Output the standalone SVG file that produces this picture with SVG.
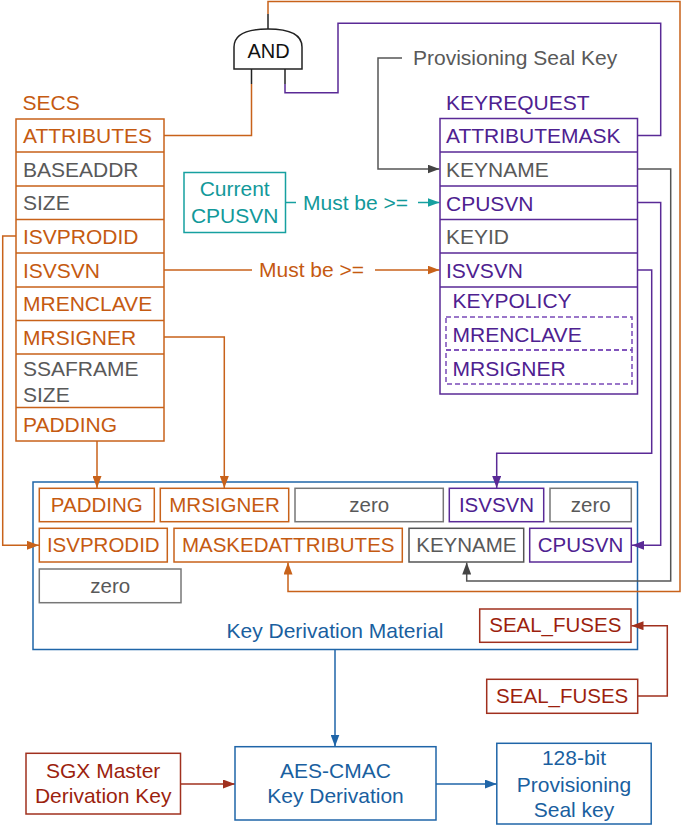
<svg xmlns="http://www.w3.org/2000/svg" width="682" height="826" viewBox="0 0 682 826">
<style>
text{font-family:"Liberation Sans",Arial,"DejaVu Sans",sans-serif;font-size:21px}
.c{text-anchor:middle}
.m{font-size:20.5px}
.or{fill:#c55a11}.pu{fill:#4e2190}.gy{fill:#595959}.tl{fill:#12999a}.bl{fill:#1a5f9f}.rd{fill:#9c1f0e}.bk{fill:#111}
.bor{fill:#fff;stroke:#c8621a;stroke-width:1.5}
.bpu{fill:#fff;stroke:#5a2a96;stroke-width:1.5}
.bgy{fill:#fff;stroke:#777;stroke-width:1.5}
.bkn{fill:#fff;stroke:#555;stroke-width:1.5}
.bbl{fill:#fff;stroke:#1f65a8;stroke-width:1.5}
.brd{fill:#fff;stroke:#a0301e;stroke-width:1.5}
.btl{fill:#fff;stroke:#16a0a0;stroke-width:1.5}
.l{fill:none;stroke-width:1.5}
.lor{stroke:#c8621a}.lpu{stroke:#5a2a96}.lgy{stroke:#555}.lbl{stroke:#1f65a8}.lrd{stroke:#a0301e}.ltl{stroke:#16a0a0}.lbk{stroke:#222}
.dash{fill:none;stroke:#7a4ab8;stroke-width:1.5;stroke-dasharray:5,3}
</style>
<defs>
<marker id="aor" viewBox="0 0 12 9" refX="12" refY="4.5" markerWidth="12" markerHeight="9" markerUnits="userSpaceOnUse" orient="auto"><path d="M0,0L12,4.5L0,9z" fill="#c8621a"/></marker>
<marker id="apu" viewBox="0 0 12 9" refX="12" refY="4.5" markerWidth="12" markerHeight="9" markerUnits="userSpaceOnUse" orient="auto"><path d="M0,0L12,4.5L0,9z" fill="#5a2a96"/></marker>
<marker id="agy" viewBox="0 0 12 9" refX="12" refY="4.5" markerWidth="12" markerHeight="9" markerUnits="userSpaceOnUse" orient="auto"><path d="M0,0L12,4.5L0,9z" fill="#444"/></marker>
<marker id="atl" viewBox="0 0 12 9" refX="12" refY="4.5" markerWidth="12" markerHeight="9" markerUnits="userSpaceOnUse" orient="auto"><path d="M0,0L12,4.5L0,9z" fill="#16a0a0"/></marker>
<marker id="abl" viewBox="0 0 12 9" refX="12" refY="4.5" markerWidth="12" markerHeight="9" markerUnits="userSpaceOnUse" orient="auto"><path d="M0,0L12,4.5L0,9z" fill="#1f65a8"/></marker>
<marker id="ard" viewBox="0 0 12 9" refX="12" refY="4.5" markerWidth="12" markerHeight="9" markerUnits="userSpaceOnUse" orient="auto"><path d="M0,0L12,4.5L0,9z" fill="#a0301e"/></marker>
</defs>

<g id="kdm">
<rect class="bbl" x="33" y="482" width="604.5" height="167.5"/>
<text class="bl c" x="335" y="638">Key Derivation Material</text>
</g>

<g id="connectors">
<path class="l lor" d="M164,135.5H251.5V84"/>
<path class="l lbk" d="M251.5,84V69"/>
<path class="l lbk" d="M285,69V84"/>
<path class="l lpu" d="M285,84V92.7H338V23.3H660.7V135.5H637.5"/>
<path class="l lbk" d="M268,29V14"/>
<path class="l lor" d="M268,14V1.5H680V591.5H288V562.5" marker-end="url(#aor)"/>
<path class="l lgy" d="M402,58H378V169H439.5" marker-end="url(#agy)"/>
<path class="l lgy" d="M637.5,169H670.7V581H466.7V562.5" marker-end="url(#agy)"/>
<path class="l lpu" d="M637.5,202.5H660.7V545.3H632" marker-end="url(#apu)"/>
<path class="l lpu" d="M637.5,270H651.7V453.3H496.7V488" marker-end="url(#apu)"/>
<path class="l lor" d="M164,337H224.3V488" marker-end="url(#aor)"/>
<path class="l lor" d="M97,441V488" marker-end="url(#aor)"/>
<path class="l lor" d="M16,236H2.7V545.3H39" marker-end="url(#aor)"/>
<path class="l lor" d="M164,270H252"/>
<path class="l lor" d="M375,270H439.5" marker-end="url(#aor)"/>
<text class="or" x="259" y="277">Must be &gt;=</text>
<path class="l ltl" d="M285.5,202.5H296"/>
<path class="l ltl" d="M418,202.5H439.5" marker-end="url(#atl)"/>
<text class="tl" x="303" y="209.5">Must be &gt;=</text>
<path class="l lrd" d="M637.7,696H667.3V625.7H631.5" marker-end="url(#ard)"/>
<path class="l lbl" d="M335,649.5V746.5" marker-end="url(#abl)"/>
<path class="l lrd" d="M180.5,784H235" marker-end="url(#ard)"/>
<path class="l lbl" d="M436,784H496.8" marker-end="url(#abl)"/>
</g>

<g id="and-gate">
<path d="M234,69V47Q234,29 268,29Q302,29 302,47V69Z" fill="#fff" stroke="#222" stroke-width="1.5"/>
<text class="bk c" x="268.5" y="57.5" style="font-size:20px">AND</text>
</g>

<g id="secs">
<text class="or" x="22.5" y="110">SECS</text>
<rect class="bor" x="16" y="119" width="148" height="322"/>
<path class="l lor" d="M16,152H164M16,186H164M16,219.5H164M16,253H164M16,287H164M16,320.5H164M16,354H164M16,407.5H164"/>
<text class="or" x="23" y="143.3">ATTRIBUTES</text>
<text class="gy" x="23" y="176.7">BASEADDR</text>
<text class="gy" x="23" y="210.3">SIZE</text>
<text class="or" x="23" y="243.7">ISVPRODID</text>
<text class="or" x="23" y="277.5">ISVSVN</text>
<text class="or" x="23" y="311">MRENCLAVE</text>
<text class="or" x="23" y="344.5">MRSIGNER</text>
<text class="gy" x="23" y="375.5">SSAFRAME</text>
<text class="gy" x="23" y="401.5">SIZE</text>
<text class="or" x="23" y="431.5">PADDING</text>
</g>

<g id="prov-label">
<text class="gy" x="413" y="65">Provisioning Seal Key</text>
</g>

<g id="keyrequest">
<text class="pu" x="446" y="110">KEYREQUEST</text>
<rect class="bpu" x="440" y="118.5" width="197.5" height="275.5"/>
<path class="l lpu" d="M440,152H637.5M440,186H637.5M440,219.5H637.5M440,253H637.5M440,287H637.5"/>
<text class="pu" x="446" y="143.3">ATTRIBUTEMASK</text>
<text class="gy" x="446" y="176.7">KEYNAME</text>
<text class="pu" x="446" y="210.7">CPUSVN</text>
<text class="gy" x="446" y="244">KEYID</text>
<text class="pu" x="446" y="278">ISVSVN</text>
<text class="pu" x="452.5" y="307.5">KEYPOLICY</text>
<rect class="dash" x="446" y="317" width="186" height="33"/>
<rect class="dash" x="446" y="350" width="186" height="34"/>
<text class="pu" x="452.5" y="341.7">MRENCLAVE</text>
<text class="pu" x="452.5" y="375.7">MRSIGNER</text>
</g>

<g id="current-cpusvn">
<rect class="btl" x="184" y="172.5" width="101.5" height="60"/>
<text class="tl c" x="234.7" y="196">Current</text>
<text class="tl c" x="234.7" y="222.5">CPUSVN</text>
</g>

<g id="m-padding"><rect class="bor" x="39.3" y="488.3" width="115" height="33.4"/><text class="or c m" x="96.8" y="511.7">PADDING</text></g>
<g id="m-mrsigner"><rect class="bor" x="160.3" y="488.3" width="128.4" height="33.4"/><text class="or c m" x="224.5" y="511.7">MRSIGNER</text></g>
<g id="m-zero1"><rect class="bgy" x="295" y="488.3" width="148.3" height="33.4"/><text class="gy c m" x="369.2" y="511.7">zero</text></g>
<g id="m-isvsvn"><rect class="bpu" x="449.3" y="488.3" width="94.4" height="33.4"/><text class="pu c m" x="496.5" y="511.7">ISVSVN</text></g>
<g id="m-zero2"><rect class="bgy" x="550" y="488.3" width="81.3" height="33.4"/><text class="gy c m" x="590.7" y="511.7">zero</text></g>
<g id="m-isvprodid"><rect class="bor" x="39.3" y="528.3" width="128" height="33.7"/><text class="or c m" x="103.3" y="552.3">ISVPRODID</text></g>
<g id="m-maskedattr"><rect class="bor" x="174" y="528.3" width="228.3" height="33.7"/><text class="or c m" x="288.2" y="552.3">MASKEDATTRIBUTES</text></g>
<g id="m-keyname"><rect class="bkn" x="409" y="528.3" width="114.7" height="33.7"/><text class="gy c m" x="466.4" y="552.3">KEYNAME</text></g>
<g id="m-cpusvn"><rect class="bpu" x="529.7" y="528.3" width="101.6" height="33.7"/><text class="pu c m" x="580.5" y="552.3">CPUSVN</text></g>
<g id="m-zero3"><rect class="bgy" x="39.3" y="569" width="141.7" height="33.7"/><text class="gy c m" x="110.2" y="592.7">zero</text></g>
<g id="seal-fuses-in"><rect class="brd" x="479.7" y="609" width="151.3" height="33.3"/><text class="rd c m" x="555.3" y="632.3">SEAL_FUSES</text></g>
<g id="seal-fuses-out"><rect class="brd" x="486.7" y="679.3" width="151" height="34"/><text class="rd c m" x="562.2" y="703.3">SEAL_FUSES</text></g>

<g id="sgx-master">
<rect class="brd" x="26" y="753.3" width="154.5" height="60.7"/>
<text class="rd c" x="103.2" y="778.3">SGX Master</text>
<text class="rd c" x="103.2" y="803.3">Derivation Key</text>
</g>
<g id="aes-cmac">
<rect class="bbl" x="235" y="746.7" width="201" height="73.3"/>
<text class="bl c" x="335.5" y="778.3">AES-CMAC</text>
<text class="bl c" x="335.5" y="803.3">Key Derivation</text>
</g>
<g id="prov-key">
<rect class="bbl" x="496.8" y="743.3" width="154.4" height="80.7"/>
<text class="bl c" x="574" y="765">128-bit</text>
<text class="bl c" x="574" y="791.7">Provisioning</text>
<text class="bl c" x="574" y="816.7">Seal key</text>
</g>
</svg>
